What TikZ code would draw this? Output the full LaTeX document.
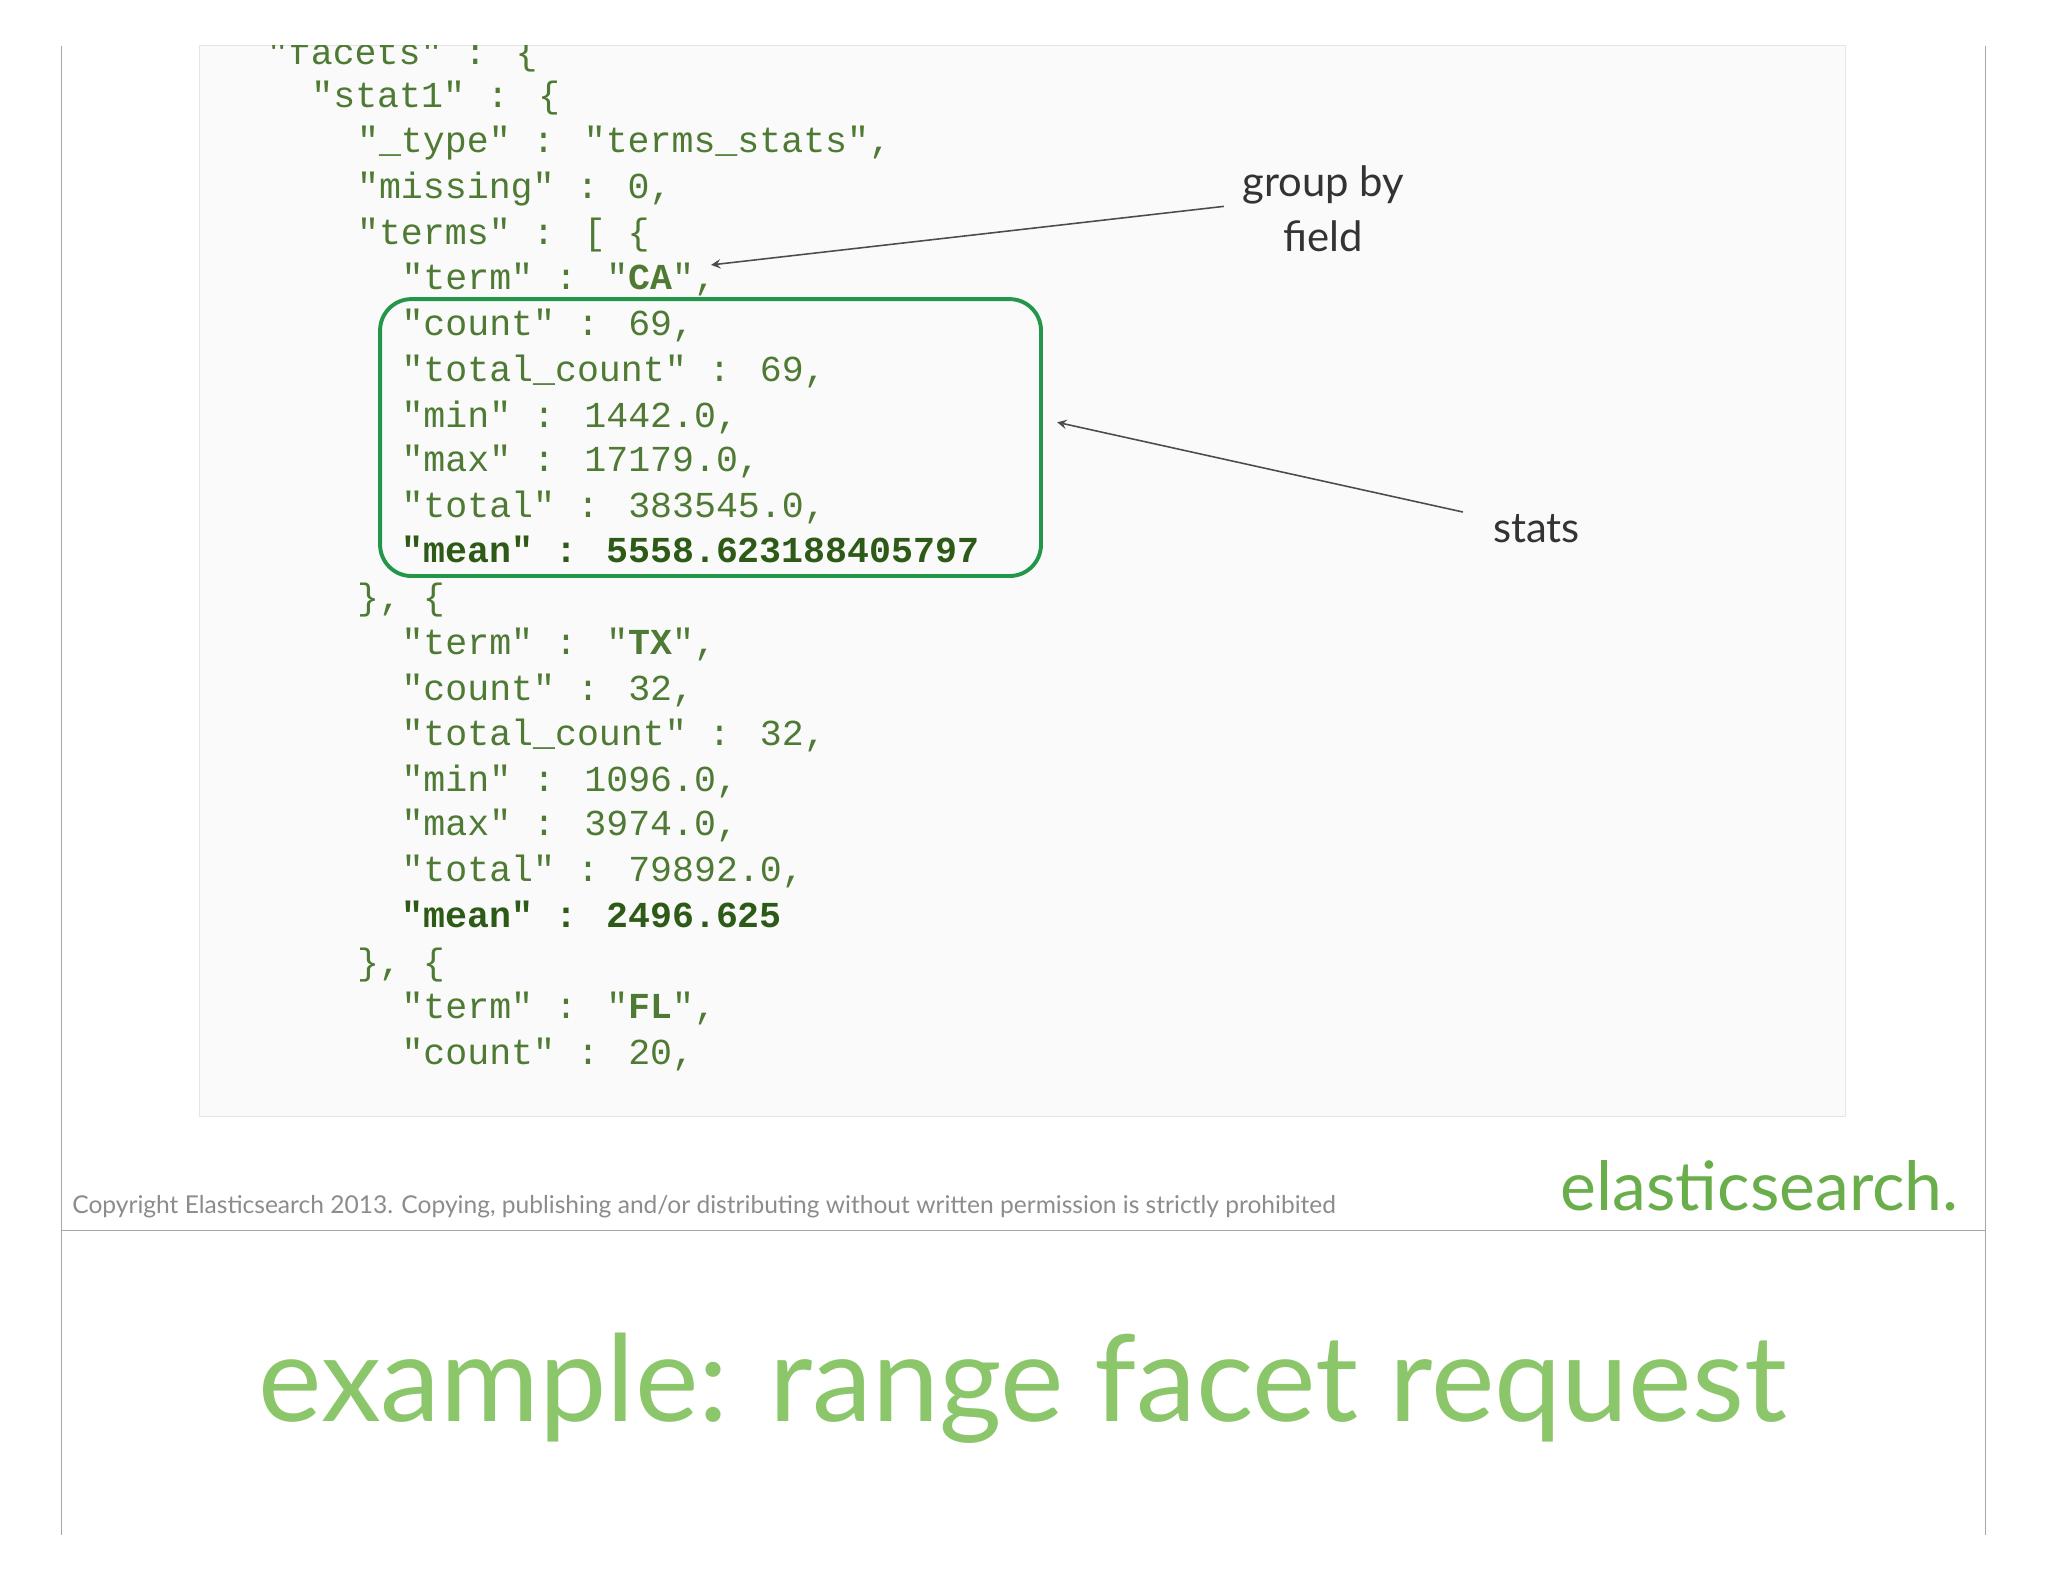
\documentclass[tikz,border=0pt]{standalone}
\usepackage{fontspec}
\newfontfamily\codefont{Liberation Mono}
\newfontfamily\gillfont{Lato}
\definecolor{codecol}{HTML}{4E7A34}
\definecolor{codebold}{HTML}{2E5A18}
\definecolor{boxgreen}{HTML}{23964A}
\definecolor{esgreen}{HTML}{6AAE4C}
\definecolor{titlegreen}{HTML}{8CC66A}
\tikzset{
  code/.style={anchor=base west,inner sep=0,font=\codefont\fontsize{14}{14}\selectfont,text=codecol},
  boldcode/.style={code,font=\codefont\bfseries\fontsize{14}{14}\selectfont,text=codebold},
  note/.style={font=\gillfont\fontsize{16}{21}\selectfont,text=black!80,align=center},
  arr/.style={-stealth,draw=black!70,line width=0.6pt}
}
\begin{document}
\begin{tikzpicture}[x=0.5pt,y=-0.5pt]
\useasboundingbox (0,0) rectangle (1568,1211);
\fill[white] (0,0) rectangle (1568,1211);
\draw[black!35,line width=0.6pt] (47,35) -- (47,1175) (1520,35) -- (1520,1175) (47,942) -- (1520,942);
\draw[black!10,fill=black!2] (153,35) rectangle (1413,855);
\begin{scope}
\clip (153,35) rectangle (1413,855);
\node[code] (l0) at (204,49) {"facets" : \{};
\node[code] (l1) at (238,82) {"stat1" : \{};
\node[code] (l2) at (273,117) {"\_type" : "terms\_stats",};
\node[code] (l3) at (273,152) {"missing" : 0,};
\node[code] (l4) at (273,187) {"terms" : [ \{};
\node[code] (l5) at (307,222) {"term" : "\textbf{CA}",};
\node[code] (l6) at (307,257) {"count" : 69,};
\node[code] (l7) at (307,292) {"total\_count" : 69,};
\node[code] (l8) at (307,327) {"min" : 1442.0,};
\node[code] (l9) at (307,361) {"max" : 17179.0,};
\node[code] (l10) at (307,396) {"total" : 383545.0,};
\node[boldcode] (l11) at (307,431) {"mean" : 5558.623188405797};
\node[code] (l12) at (273,467) {\}, \{};
\node[code] (l13) at (307,501) {"term" : "\textbf{TX}",};
\node[code] (l14) at (307,536) {"count" : 32,};
\node[code] (l15) at (307,571) {"total\_count" : 32,};
\node[code] (l16) at (307,606) {"min" : 1096.0,};
\node[code] (l17) at (307,640) {"max" : 3974.0,};
\node[code] (l18) at (307,675) {"total" : 79892.0,};
\node[boldcode] (l19) at (307,710) {"mean" : 2496.625};
\node[code] (l20) at (273,746) {\}, \{};
\node[code] (l21) at (307,780) {"term" : "\textbf{FL}",};
\node[code] (l22) at (307,815) {"count" : 20,};
\end{scope}
\draw[boxgreen,line width=1.5pt,rounded corners=12] (291,229) rectangle (797,441);
\node[inner sep=0] (statbox) at (808,323) {};
\node[inner sep=0] (ca) at (543,203) {};
\node[note] (gb) at (1013,160) {group by\\field};
\node[note,anchor=west] (st) at (1136,405) {stats};
\draw[arr] (937,158) -- (ca);
\draw[arr] (1120,392) -- (statbox);
\node[anchor=base west,inner sep=0,font=\gillfont\fontsize{9.4}{10}\selectfont,text=black!45] (copy) at (55,929) {Copyright Elasticsearch 2013. Copying, publishing and/or distributing without written permission is strictly prohibited};
\node[anchor=base east,inner sep=0,font=\gillfont\fontsize{26}{28}\selectfont,text=esgreen] (es) at (1500,927) {elasticsearch.};
\node[anchor=base,inner sep=0,font=\gillfont\fontsize{46}{48}\selectfont,text=titlegreen] (title) at (783,1088) {example: range facet request};
\end{tikzpicture}
\end{document}
